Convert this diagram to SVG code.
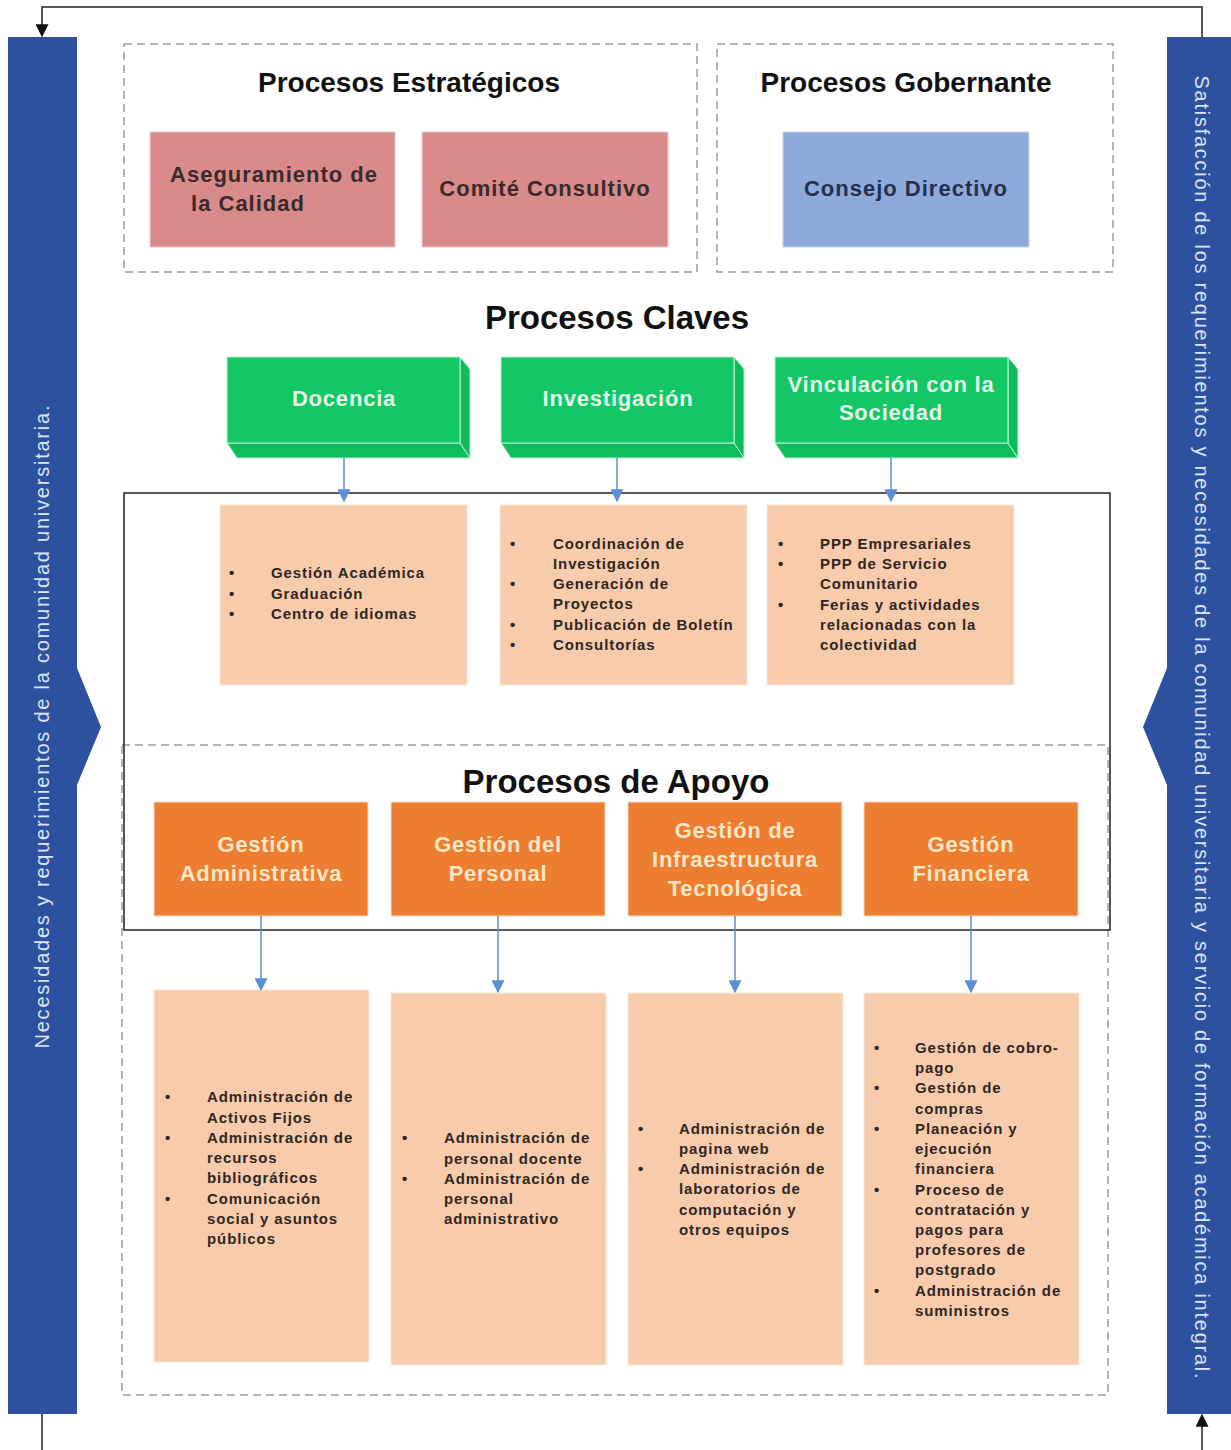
<svg xmlns="http://www.w3.org/2000/svg" width="1231" height="1450" viewBox="0 0 1231 1450">
<style>
text{font-family:"Liberation Sans",Arial,sans-serif}
.title{font-weight:bold;font-size:28px;fill:#111;text-anchor:middle}
.big{font-weight:bold;font-size:33px;fill:#111;text-anchor:middle}
.red{fill:#d98b8b;stroke:#f0c8c8;stroke-width:1}
.rt{font-weight:bold;font-size:22px;fill:#3a2a2a;text-anchor:middle;letter-spacing:1px}
.gf{fill:#13c764;stroke:#b9f5d2;stroke-width:1}
.gs{fill:#10bb5d;stroke:#b9f5d2;stroke-width:1}
.gt{font-weight:bold;font-size:22px;fill:#e2f8ea;text-anchor:middle;letter-spacing:0.8px}
.or{fill:#ed7d31;stroke:#fbd9bf;stroke-width:1}
.ot{font-weight:bold;font-size:22px;fill:#fde6c6;text-anchor:middle;letter-spacing:0.7px}
.pe{fill:#f8cbad;stroke:#fde6d6;stroke-width:1}
.li{font-weight:bold;font-size:15px;fill:#2e2620;letter-spacing:0.9px}
.dash{fill:none;stroke:#9a9a9a;stroke-width:1.5;stroke-dasharray:8 5}
.bar{fill:#2d509f}
.vt{font-size:20px;fill:#dce5f5;text-anchor:middle}
.ca{stroke:#5b8ed6;stroke-width:1.5;fill:none;marker-end:url(#ba)}
.ka{stroke:#222;stroke-width:1.5;fill:none}
</style>
<defs>
<marker id="ba" viewBox="0 0 10 10" refX="9" refY="5" markerWidth="13" markerHeight="13" markerUnits="userSpaceOnUse" orient="auto"><path d="M0,0 L10,5 L0,10 Z" fill="#5b8ed6"/></marker>
<marker id="ka" viewBox="0 0 10 10" refX="9" refY="5" markerWidth="13" markerHeight="13" markerUnits="userSpaceOnUse" orient="auto"><path d="M0,0 L10,5 L0,10 Z" fill="#111"/></marker>
</defs>
<rect width="1231" height="1450" fill="#fff"/>

<g id="frames">
<rect class="dash" x="124" y="44" width="573" height="228"/>
<rect class="dash" x="717" y="44" width="396" height="228"/>
<rect class="dash" x="122" y="745" width="986" height="650"/>
<rect x="124" y="493" width="986" height="437" fill="none" stroke="#222" stroke-width="1.5"/>
</g>

<g id="bar-left">
<polygon class="bar" points="8,37 77,37 77,668 101,727 77,785 77,1414 8,1414"/>
<text class="vt" transform="rotate(-90 42 727)" x="42" y="734" textLength="643" lengthAdjust="spacing">Necesidades y requerimientos de la comunidad universitaria.</text>
</g>
<g id="bar-right">
<polygon class="bar" points="1167,37 1231,37 1231,1414 1167,1414 1167,785 1143,727 1167,668"/>
<text class="vt" transform="rotate(90 1202 727)" x="1202" y="734" textLength="1303" lengthAdjust="spacing">Satisfacción de los requerimientos y necesidades de la comunidad universitaria y servicio de formación académica integral.</text>
</g>

<g id="titles">
<text class="title" x="409" y="92">Procesos Estratégicos</text>
<text class="title" x="906" y="92">Procesos Gobernante</text>
<text class="big" x="617" y="329">Procesos Claves</text>
<text class="big" x="616" y="793">Procesos de Apoyo</text>
</g>

<g id="n-aseguramiento"><rect class="red" x="150" y="132" width="245" height="115"/>
<text class="rt" x="274" y="182">Aseguramiento de</text><text class="rt" x="248" y="211">la Calidad</text></g>
<g id="n-comite"><rect class="red" x="422" y="132" width="246" height="115"/>
<text class="rt" x="545" y="196">Comité Consultivo</text></g>
<g id="n-consejo"><rect x="783" y="132" width="246" height="115" fill="#8eaadb" stroke="#c8d6f0"/>
<text class="rt" x="906" y="196" style="fill:#233050">Consejo Directivo</text></g>

<g id="n-docencia">
<polygon class="gs" points="227,443 460,443 470,458 237,458"/>
<polygon class="gs" points="460,357 470,369 470,458 460,443"/>
<rect class="gf" x="227" y="357" width="233" height="86"/>
<text class="gt" x="344" y="406">Docencia</text></g>
<g id="n-investigacion">
<polygon class="gs" points="501,443 734,443 744,458 511,458"/>
<polygon class="gs" points="734,357 744,369 744,458 734,443"/>
<rect class="gf" x="501" y="357" width="233" height="86"/>
<text class="gt" x="618" y="406">Investigación</text></g>
<g id="n-vinculacion">
<polygon class="gs" points="775,443 1008,443 1018,458 785,458"/>
<polygon class="gs" points="1008,357 1018,369 1018,458 1008,443"/>
<rect class="gf" x="775" y="357" width="233" height="86"/>
<text class="gt" x="891" y="392">Vinculación con la</text><text class="gt" x="891" y="420">Sociedad</text></g>

<g id="n-list-docencia"><rect class="pe" x="220" y="505" width="247" height="180"/>
<g class="li"><text x="229" y="578">•</text><text x="229" y="599">•</text><text x="229" y="619">•</text>
<text x="271" y="578">Gestión Académica</text><text x="271" y="599">Graduación</text><text x="271" y="619">Centro de idiomas</text></g></g>

<g id="n-list-investigacion"><rect class="pe" x="500" y="505" width="247" height="180"/>
<g class="li"><text x="510" y="549">•</text><text x="510" y="589">•</text><text x="510" y="630">•</text><text x="510" y="650">•</text>
<text x="553" y="549">Coordinación de</text><text x="553" y="569">Investigación</text><text x="553" y="589">Generación de</text><text x="553" y="609">Proyectos</text><text x="553" y="630">Publicación de Boletín</text><text x="553" y="650">Consultorías</text></g></g>

<g id="n-list-vinculacion"><rect class="pe" x="767" y="505" width="247" height="180"/>
<g class="li"><text x="778" y="549">•</text><text x="778" y="569">•</text><text x="778" y="610">•</text>
<text x="820" y="549">PPP Empresariales</text><text x="820" y="569">PPP de Servicio</text><text x="820" y="589">Comunitario</text><text x="820" y="610">Ferias y actividades</text><text x="820" y="630">relacionadas con la</text><text x="820" y="650">colectividad</text></g></g>

<g id="n-gadmin"><rect class="or" x="154" y="802" width="214" height="114"/>
<text class="ot" x="261" y="852">Gestión</text><text class="ot" x="261" y="881">Administrativa</text></g>
<g id="n-gpersonal"><rect class="or" x="391" y="802" width="214" height="114"/>
<text class="ot" x="498" y="852">Gestión del</text><text class="ot" x="498" y="881">Personal</text></g>
<g id="n-ginfra"><rect class="or" x="628" y="802" width="214" height="114"/>
<text class="ot" x="735" y="838">Gestión de</text><text class="ot" x="735" y="867">Infraestructura</text><text class="ot" x="735" y="896">Tecnológica</text></g>
<g id="n-gfin"><rect class="or" x="864" y="802" width="214" height="114"/>
<text class="ot" x="971" y="852">Gestión</text><text class="ot" x="971" y="881">Financiera</text></g>

<g id="n-list-admin"><rect class="pe" x="154" y="990" width="215" height="372"/>
<g class="li"><text x="165" y="1102">•</text><text x="165" y="1143">•</text><text x="165" y="1204">•</text>
<text x="207" y="1102">Administración de</text><text x="207" y="1123">Activos Fijos</text><text x="207" y="1143">Administración de</text><text x="207" y="1163">recursos</text><text x="207" y="1183">bibliográficos</text><text x="207" y="1204">Comunicación</text><text x="207" y="1224">social y asuntos</text><text x="207" y="1244">públicos</text></g></g>

<g id="n-list-personal"><rect class="pe" x="391" y="993" width="215" height="372"/>
<g class="li"><text x="402" y="1143">•</text><text x="402" y="1184">•</text>
<text x="444" y="1143">Administración de</text><text x="444" y="1164">personal docente</text><text x="444" y="1184">Administración de</text><text x="444" y="1204">personal</text><text x="444" y="1224">administrativo</text></g></g>

<g id="n-list-infra"><rect class="pe" x="628" y="993" width="215" height="372"/>
<g class="li"><text x="638" y="1134">•</text><text x="638" y="1174">•</text>
<text x="679" y="1134">Administración de</text><text x="679" y="1154">pagina web</text><text x="679" y="1174">Administración de</text><text x="679" y="1194">laboratorios de</text><text x="679" y="1215">computación y</text><text x="679" y="1235">otros equipos</text></g></g>

<g id="n-list-fin"><rect class="pe" x="864" y="993" width="215" height="372"/>
<g class="li"><text x="874" y="1053">•</text><text x="874" y="1093">•</text><text x="874" y="1134">•</text><text x="874" y="1195">•</text><text x="874" y="1296">•</text>
<text x="915" y="1053">Gestión de cobro-</text><text x="915" y="1073">pago</text><text x="915" y="1093">Gestión de</text><text x="915" y="1114">compras</text><text x="915" y="1134">Planeación y</text><text x="915" y="1154">ejecución</text><text x="915" y="1174">financiera</text><text x="915" y="1195">Proceso de</text><text x="915" y="1215">contratación y</text><text x="915" y="1235">pagos para</text><text x="915" y="1255">profesores de</text><text x="915" y="1275">postgrado</text><text x="915" y="1296">Administración de</text><text x="915" y="1316">suministros</text></g></g>

<g id="connectors">
<line class="ca" x1="344" y1="458" x2="344" y2="501"/>
<line class="ca" x1="617" y1="458" x2="617" y2="501"/>
<line class="ca" x1="891" y1="458" x2="891" y2="501"/>
<line class="ca" x1="261" y1="916" x2="261" y2="990"/>
<line class="ca" x1="498" y1="916" x2="498" y2="992"/>
<line class="ca" x1="735" y1="916" x2="735" y2="992"/>
<line class="ca" x1="971" y1="916" x2="971" y2="992"/>
<polyline class="ka" points="1202,37 1202,7 42,7 42,36" marker-end="url(#ka)"/>
<line class="ka" x1="42" y1="1414" x2="42" y2="1450"/>
<line class="ka" x1="1202" y1="1450" x2="1202" y2="1415" marker-end="url(#ka)"/>
</g>
</svg>
